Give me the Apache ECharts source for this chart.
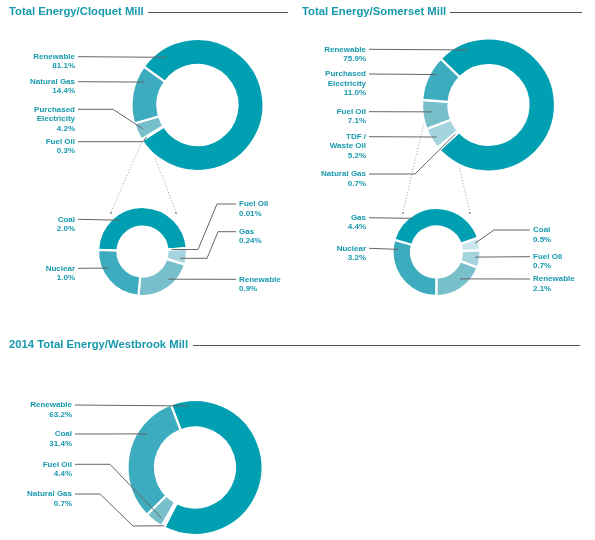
<!DOCTYPE html>
<html>
<head>
<meta charset="UTF-8">
<title>Total Energy by Mill</title>
<script src="https://cdn.jsdelivr.net/npm/echarts@6/dist/echarts.min.js"></script>
<style>
	body { margin: 0; background: #fff; }
	#main { width: 595px; height: 540px; }
</style>
</head>
<body>
<div id="main"></div>

<script type="text/javascript">
	// Cloquet Mill
	var cloquetNames = ['Renewable', 'Fuel Oil', 'Purchased\nElectricity', 'Natural Gas'];
	var cloquetValues = [81.1, 0.3, 4.2, 14.4];
	// breakdown of purchased electricity
	var cloquetSubNames = ['Coal', 'Fuel Oil', 'Gas', 'Renewable', 'Nuclear'];
	var cloquetSubValues = [2.0, 0.01, 0.24, 0.9, 1.0];

	// Somerset Mill
	var somersetNames = ['Renewable', 'Natural Gas', 'TDF /\nWaste Oil', 'Fuel Oil', 'Purchased\nElectricity'];
	var somersetValues = [75.9, 0.7, 5.2, 7.1, 11.0];
	var somersetSubNames = ['Gas', 'Coal', 'Fuel Oil', 'Renewable', 'Nuclear'];
	var somersetSubValues = [4.4, 0.5, 0.7, 2.1, 3.2];

	// Westbrook Mill
	var westbrookNames = ['Renewable', 'Natural Gas', 'Fuel Oil', 'Coal'];
	var westbrookValues = [63.2, 0.7, 4.4, 31.4];

	var titles = ['Total Energy/Cloquet Mill', 'Total Energy/Somerset Mill', '2014 Total Energy/Westbrook Mill'];

	// colours
	var C1 = '#009fb1', C2 = '#3dacbf', C3 = '#78bfcc', C4 = '#a5d4df', C5 = '#cde7ee';
	var TEXT = '#1799ae';
	var LINE = '#666';
	var FONT = 'Liberation Sans, Arial, sans-serif';

	var chart = echarts.init(document.getElementById('main'), null, {renderer: 'canvas'});

	function pct(v) {
		return (Math.abs(Math.round(v * 10) - v * 10) > 1e-9) ? v.toFixed(2) : v.toFixed(1);
	}

	// point inside a slice: frac = how far along the slice (clockwise), r = radius in px
	function anchorOf(values, startAngle, center, idx, frac, r) {
		var sum = values.reduce(function (a, b) { return a + b; }, 0);
		var a = startAngle;
		for (var i = 0; i < idx; i++) a -= values[i] / sum * 360;
		var ang = (a - frac * values[idx] / sum * 360) * Math.PI / 180;
		return [center[0] + r * Math.cos(ang), center[1] - r * Math.sin(ang)];
	}

	// visible ring + a transparent copy on top that carries labels, so the leader lines sit over the ring
	function donut(names, values, colors, center, radius, startAngle, labels) {
		var ring = {
			type: 'pie',
			z: 2,
			center: center,
			radius: radius,
			startAngle: startAngle,
			clockwise: true,
			silent: true,
			animation: false,
			itemStyle: { borderColor: '#fff', borderWidth: 2.2 },
			label: { show: false },
			labelLine: { show: false },
			data: names.map(function (n, i) {
				return { name: n, value: values[i], itemStyle: { color: colors[i] } };
			})
		};
		var text = {
			type: 'pie',
			z: 3,
			center: center,
			radius: radius,
			startAngle: startAngle,
			clockwise: true,
			avoidLabelOverlap: false,
			silent: true,
			animation: false,
			itemStyle: { color: 'rgba(0,0,0,0)', borderWidth: 0 },
			label: {
				show: true,
				position: 'outside',
				color: TEXT,
				fontFamily: FONT,
				fontSize: 8,
				fontWeight: 'bold',
				lineHeight: 9.5,
				formatter: function (p) { return p.name + '\n' + pct(p.value) + '%'; }
			},
			labelLine: { show: true, length: 5, length2: 5, lineStyle: { color: LINE, width: 1 } },
			labelLayout: function (p) {
				var L = labels[p.dataIndex];
				var a = anchorOf(values, startAngle, center, p.dataIndex, L.at[0], L.at[1]);
				var endX = L.align === 'right' ? L.x + 3 : L.x - 3;
				var pts = [a].concat(L.bend || []).concat([[endX, L.y]]);
				return {
					x: L.x,
					y: L.y - 4.75,
					align: L.align,
					verticalAlign: 'top',
					labelLinePoints: pts
				};
			},
			data: names.map(function (n, i) {
				return { name: n, value: values[i] };
			})
		};
		return [ring, text];
	}

	var R = 'right', Lf = 'left';
	var titleStyle = { color: TEXT, fontSize: 11.3, fontWeight: 'bold', fontFamily: FONT };
	var dot = { stroke: '#9a9a9a', lineWidth: 1, lineDash: [1, 2] };

	var option = {
		animation: false,
		title: [
			{ text: titles[0], left: 9, top: 6, padding: 0, textStyle: titleStyle },
			{ text: titles[1], left: 302, top: 6, padding: 0, textStyle: titleStyle },
			{ text: titles[2], left: 9, top: 339, padding: 0, textStyle: titleStyle }
		],
		graphic: [
			// rules after the titles
			{ type: 'line', shape: { x1: 148, y1: 12.5, x2: 288, y2: 12.5 }, style: { stroke: '#555', lineWidth: 1 } },
			{ type: 'line', shape: { x1: 450, y1: 12.5, x2: 582, y2: 12.5 }, style: { stroke: '#555', lineWidth: 1 } },
			{ type: 'line', shape: { x1: 193, y1: 345.5, x2: 580, y2: 345.5 }, style: { stroke: '#555', lineWidth: 1 } },
			// dotted connectors to the breakdown rings
			{ type: 'line', shape: { x1: 142, y1: 142, x2: 111, y2: 212 }, style: dot },
			{ type: 'line', shape: { x1: 152, y1: 150, x2: 176, y2: 212 }, style: dot },
			{ type: 'line', shape: { x1: 435, y1: 75, x2: 403, y2: 212 }, style: dot },
			{ type: 'line', shape: { x1: 437, y1: 75, x2: 470, y2: 212 }, style: dot },
			{ type: 'circle', shape: { cx: 111, cy: 213, r: 1 }, style: { fill: '#888' } },
			{ type: 'circle', shape: { cx: 176, cy: 213, r: 1 }, style: { fill: '#888' } },
			{ type: 'circle', shape: { cx: 403, cy: 213, r: 1 }, style: { fill: '#888' } },
			{ type: 'circle', shape: { cx: 470, cy: 213, r: 1 }, style: { fill: '#888' } }
		],
		series: [].concat(
			donut(cloquetNames, cloquetValues, [C1, C4, C3, C2], [197.5, 105], [40, 66], 144.5, [
				{ x: 75, y: 56.7, align: R, at: [0.073, 57] },
				{ x: 75, y: 141.7, align: R, at: [0.5, 60], bend: [[143, 141.7]] },
				{ x: 75, y: 109.3, align: R, at: [0.51, 59.5], bend: [[113, 109.3]] },
				{ x: 75, y: 81.7, align: R, at: [0.77, 57.3] }
			]),
			donut(cloquetSubNames, cloquetSubValues, [C1, C5, C4, C3, C2], [142.5, 251.5], [25, 44.5], 178, [
				{ x: 75, y: 219.3, align: R, at: [0.30, 38.7] },
				{ x: 239, y: 204, align: Lf, at: [0.5, 29], bend: [[198, 249.5], [217, 204]] },
				{ x: 239, y: 231.7, align: Lf, at: [0.67, 38], bend: [[207, 258.3], [218, 231.7]] },
				{ x: 239, y: 279.3, align: Lf, at: [0.38, 38] },
				{ x: 75, y: 268.3, align: R, at: [0.68, 38.2] }
			]),
			donut(somersetNames, somersetValues, [C1, C5, C4, C3, C2], [488.5, 105], [40, 66.5], 136, [
				{ x: 366, y: 49.3, align: R, at: [0.093, 58.8] },
				{ x: 366, y: 174, align: R, at: [0.5, 44], bend: [[415, 174]] },
				{ x: 366, y: 136.7, align: R, at: [0.44, 60.9] },
				{ x: 366, y: 111.7, align: R, at: [0.56, 57.2] },
				{ x: 366, y: 74, align: R, at: [0.66, 60] }
			]),
			donut(somersetSubNames, somersetSubValues, [C1, C5, C4, C3, C2], [436.5, 252], [25.5, 44], 164, [
				{ x: 366, y: 217.7, align: R, at: [0.27, 40.9] },
				{ x: 533, y: 230, align: Lf, at: [0.36, 39.5], bend: [[494, 230]] },
				{ x: 533, y: 256.7, align: Lf, at: [0.42, 38.8] },
				{ x: 533, y: 279, align: Lf, at: [0.40, 35.8] },
				{ x: 366, y: 248.3, align: R, at: [0.886, 38.3] }
			]),
			donut(westbrookNames, westbrookValues, [C1, C4, C3, C2], [195, 467.5], [40, 67.5], 111, [
				{ x: 72, y: 405, align: R, at: [0.065, 61.9] },
				{ x: 72, y: 494, align: R, at: [0.3, 66], bend: [[133, 526], [100, 494]] },
				{ x: 72, y: 464.3, align: R, at: [0.22, 60.7], bend: [[110, 464.3]] },
				{ x: 72, y: 434, align: R, at: [0.70, 58.6] }
			])
		)
	};

	chart.setOption(option);
</script>
</body>
</html>
